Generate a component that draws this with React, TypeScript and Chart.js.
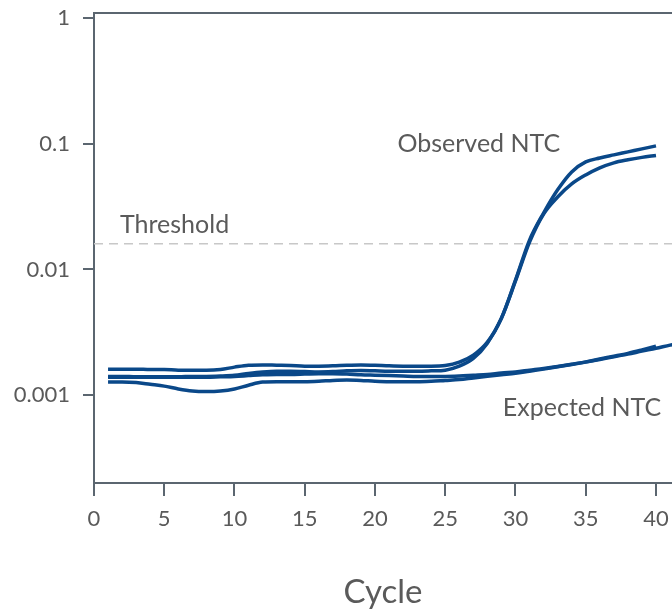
import { useEffect, useRef } from 'react';
import { Chart, registerables } from 'chart.js';

Chart.register(...registerables);

const cycles = [1, 2, 3, 4, 5, 6, 7, 8, 9, 10, 11, 12, 13, 14, 15, 16, 17, 18, 19, 20, 21, 22, 23, 24, 25, 26, 27, 28, 29, 30, 31, 32, 33, 34, 35, 36, 37, 38, 39, 40, 41, 42];

const observedHigh = [0.00161, 0.00161, 0.00161, 0.0016, 0.0016, 0.00158, 0.00158, 0.00158, 0.0016, 0.00167, 0.00173, 0.00174, 0.00173, 0.00172, 0.0017, 0.0017, 0.00171, 0.00173, 0.00174, 0.00173, 0.00171, 0.0017, 0.0017, 0.0017, 0.00172, 0.00183, 0.00208, 0.00264, 0.00409, 0.00822, 0.0171, 0.0281, 0.043, 0.0597, 0.0717, 0.077, 0.0815, 0.0861, 0.091, 0.0961];

const observedLow = [0.00141, 0.00141, 0.0014, 0.0014, 0.0014, 0.0014, 0.00141, 0.00141, 0.00142, 0.00144, 0.00149, 0.00153, 0.00155, 0.00155, 0.00154, 0.00153, 0.00154, 0.00156, 0.00157, 0.00156, 0.00155, 0.00155, 0.00155, 0.00156, 0.00158, 0.0017, 0.00196, 0.00259, 0.0041, 0.0081, 0.0165, 0.0276, 0.0377, 0.0479, 0.0565, 0.0643, 0.0705, 0.0745, 0.0779, 0.0807];

const expectedA = [0.00139, 0.00139, 0.00139, 0.00139, 0.00139, 0.00139, 0.00139, 0.00139, 0.0014, 0.00141, 0.00143, 0.00145, 0.00146, 0.00146, 0.00147, 0.00148, 0.00148, 0.00147, 0.00145, 0.00144, 0.00143, 0.00142, 0.00141, 0.00141, 0.00141, 0.00142, 0.00144, 0.00146, 0.0015, 0.00153, 0.00158, 0.00163, 0.00169, 0.00176, 0.00184, 0.00194, 0.00204, 0.00215, 0.00229, 0.00245];

const expectedB = [0.00127, 0.00127, 0.00126, 0.00122, 0.00118, 0.00112, 0.00108, 0.00107, 0.00108, 0.00112, 0.0012, 0.00127, 0.00128, 0.00128, 0.00128, 0.00129, 0.00131, 0.00132, 0.00131, 0.00129, 0.00128, 0.00128, 0.00128, 0.00129, 0.00131, 0.00133, 0.00137, 0.00141, 0.00145, 0.00149, 0.00155, 0.00161, 0.00168, 0.00175, 0.00183, 0.00192, 0.00202, 0.00212, 0.00224, 0.00236, 0.0025, 0.00263];

const thresholdValue = 0.016;
const yTickValues = [1, 0.1, 0.01, 0.001];
const yTickLabels = ['1', '0.1', '0.01', '0.001'];
const xAxisTitle = 'Cycle';

const annotationTexts = ['Observed NTC', 'Threshold', 'Expected NTC'];
const annotationCycles = [21.6, 1.85, 29.1];
const annotationValues = [0.1, 0.0225, 0.00079];

const AXIS_COLOR = '#5b6670';
const TEXT_COLOR = '#5a5a5a';
const LINE_COLOR = '#0a4889';
const FONT = 'Lato, "Open Sans", sans-serif';

const toPoints = (vals: number[]) => vals.map((v, i) => ({ x: cycles[i], y: v }));

export default function App() {
  const ref = useRef<HTMLCanvasElement | null>(null);

  useEffect(() => {
    if (!ref.current) return;
    const curveStyle = {
      borderColor: LINE_COLOR,
      borderWidth: 3.5,
      pointRadius: 0,
      fill: false,
      cubicInterpolationMode: 'monotone' as const,
    };

    const overlay = {
      id: 'overlay',
      afterDatasetsDraw(chart: any) {
        const { ctx, chartArea, scales } = chart;
        ctx.save();
        ctx.strokeStyle = AXIS_COLOR;
        ctx.lineWidth = 2;
        ctx.beginPath();
        ctx.moveTo(chartArea.left - 1, chartArea.top);
        ctx.lineTo(chartArea.right, chartArea.top);
        ctx.stroke();
        ctx.fillStyle = TEXT_COLOR;
        ctx.font = `25px ${FONT}`;
        ctx.textAlign = 'left';
        ctx.textBaseline = 'middle';
        annotationTexts.forEach((t, i) => {
          const x = scales.x.getPixelForValue(annotationCycles[i]);
          const y = scales.y.getPixelForValue(annotationValues[i]);
          ctx.fillText(t, x, y);
        });
        ctx.restore();
      },
    };

    const chart = new Chart(ref.current, {
      type: 'line',
      data: {
        datasets: [
          { ...curveStyle, data: toPoints(observedHigh) },
          { ...curveStyle, data: toPoints(observedLow) },
          { ...curveStyle, data: toPoints(expectedA) },
          { ...curveStyle, data: toPoints(expectedB) },
          {
            data: [
              { x: 0, y: thresholdValue },
              { x: 42, y: thresholdValue },
            ],
            borderColor: '#c8c8c8',
            borderWidth: 1.5,
            borderDash: [9, 6],
            pointRadius: 0,
            fill: false,
          },
        ],
      },
      options: {
        animation: false,
        responsive: false,
        devicePixelRatio: 1,
        layout: { padding: { top: 13, left: 0, right: 0, bottom: 0 } },
        plugins: { legend: { display: false }, tooltip: { enabled: false } },
        scales: {
          x: {
            type: 'linear',
            min: 0,
            max: 41.14,
            afterFit: (s: any) => {
              s.height = 129;
              s.paddingLeft = 0;
              s.paddingRight = 0;
            },
            border: { display: true, color: AXIS_COLOR, width: 2 },
            grid: {
              display: true,
              drawOnChartArea: false,
              drawTicks: true,
              tickLength: 13,
              color: AXIS_COLOR,
              lineWidth: 2,
            },
            ticks: {
              stepSize: 5,
              includeBounds: false,
              padding: 10,
              color: TEXT_COLOR,
              font: { family: FONT, size: 22 },
              maxRotation: 0,
            },
            title: {
              display: true,
              text: xAxisTitle,
              color: TEXT_COLOR,
              font: { family: FONT, size: 33 },
              padding: { top: 0, bottom: 0 },
            },
          },
          y: {
            type: 'logarithmic',
            min: 0.0002,
            max: 1.0965,
            afterFit: (s: any) => {
              s.width = 94;
              s.paddingTop = 0;
              s.paddingBottom = 0;
            },
            afterBuildTicks: (s: any) => {
              s.ticks = yTickValues.map((v) => ({ value: v }));
            },
            border: { display: true, color: AXIS_COLOR, width: 2 },
            grid: {
              display: true,
              drawOnChartArea: false,
              drawTicks: true,
              tickLength: 11,
              color: AXIS_COLOR,
              lineWidth: 2,
            },
            ticks: {
              padding: 13,
              color: TEXT_COLOR,
              font: { family: FONT, size: 22 },
              callback: (v: any) => {
                const i = yTickValues.indexOf(Number(v));
                return i >= 0 ? yTickLabels[i] : '';
              },
            },
          },
        },
      },
      plugins: [overlay],
    });
    return () => chart.destroy();
  }, []);

  return (
    <div style={{ position: 'fixed', left: 0, top: 0, width: 672, height: 612, background: '#fff' }}>
      <canvas ref={ref} width={672} height={612} style={{ display: 'block' }} />
    </div>
  );
}
